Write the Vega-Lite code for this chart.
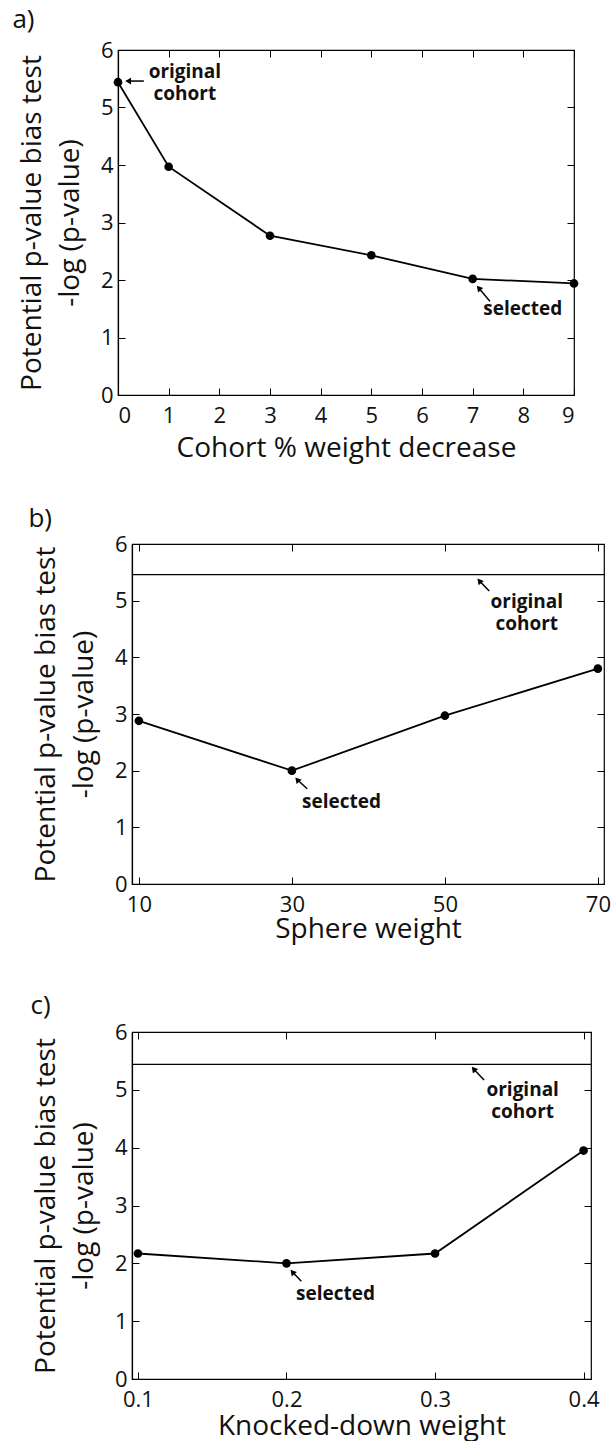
{
  "$schema": "https://vega.github.io/schema/vega-lite/v6.json",
  "padding": {"left": 4, "top": 6, "right": 0, "bottom": 0},
  "background": "white",
  "spacing": 42,
  "config": {
    "font": "Open Sans",
    "view": {"stroke": "black", "strokeWidth": 1.2},
    "axis": {"grid": false, "domainColor": "black", "domainWidth": 1.2, "tickColor": "black", "tickSize": -7, "tickWidth": 1, "labelColor": "#111", "titleColor": "#111", "labelFontSize": 22, "titleFontSize": 28, "titleFontWeight": "normal", "titleLineHeight": 38},
    "axisX": {"labelPadding": 17, "titlePadding": 8},
    "axisY": {"labelPadding": 12, "titlePadding": 16},
    "title": {"fontSize": 26, "fontWeight": "normal", "anchor": "start", "frame": "bounds", "color": "#111"}
  },
  "vconcat": [
    {
      "spacing": 0,
      "hconcat": [
        {
          "width": 1,
          "height": 10,
          "view": {"stroke": null},
          "data": {"values": [{"s": 0}]},
          "mark": {"type": "point", "opacity": 0},
          "encoding": {}
        },
        {
          "title": {"text": "a)", "dx": -6, "offset": 6},
          "width": 456,
          "height": 345,
          "data": {"values": [{"x": 0, "y": 5.44}, {"x": 1, "y": 3.97}, {"x": 3, "y": 2.77}, {"x": 5, "y": 2.43}, {"x": 7, "y": 2.02}, {"x": 9, "y": 1.94}]},
          "layer": [
            {
              "mark": {"type": "line", "color": "black", "strokeWidth": 1.8, "point": {"filled": true, "color": "black", "size": 75, "opacity": 1}},
              "encoding": {
                "x": {"field": "x", "type": "quantitative", "scale": {"domain": [0, 9], "nice": false, "zero": false}, "axis": {"values": [0, 1, 2, 3, 4, 5, 6, 7, 8, 9], "title": "Cohort % weight decrease"}},
                "y": {"field": "y", "type": "quantitative", "scale": {"domain": [0, 6], "nice": false}, "axis": {"values": [0, 1, 2, 3, 4, 5, 6], "title": ["Potential p-value bias test", "-log (p-value)"]}}
              }
            },
            {
              "mark": {"type": "point", "opacity": 0},
              "encoding": {
                "x": {"field": "x", "type": "quantitative", "axis": {"orient": "top", "values": [0, 1, 2, 3, 4, 5, 6, 7, 8, 9], "labels": false, "title": null, "domain": false}},
                "y": {"field": "y", "type": "quantitative", "axis": {"orient": "right", "values": [0, 1, 2, 3, 4, 5, 6], "labels": false, "title": null, "domain": false}}
              }
            },
            {
              "data": {"values": [{"label": "original", "x": 1.32, "y": 5.62}, {"label": "cohort", "x": 1.32, "y": 5.23}, {"label": "selected", "x": 7.99, "y": 1.5}]},
              "mark": {"type": "text", "fontWeight": "bold", "fontSize": 19, "align": "center", "baseline": "middle", "color": "#111"},
              "encoding": {
                "x": {"field": "x", "type": "quantitative", "axis": null},
                "y": {"field": "y", "type": "quantitative", "axis": null},
                "text": {"field": "label"}
              }
            },
            {
              "data": {"values": [{"target": "original", "x": 0.2, "y": 5.46, "x2": 0.51, "y2": 5.46}, {"target": "selected", "x": 7.12, "y": 1.86, "x2": 7.34, "y2": 1.63}]},
              "layer": [
                {
                  "mark": {"type": "rule", "color": "black", "strokeWidth": 1.5},
                  "encoding": {
                    "x": {"field": "x", "type": "quantitative", "axis": null},
                    "y": {"field": "y", "type": "quantitative", "axis": null},
                    "x2": {"field": "x2"},
                    "y2": {"field": "y2"}
                  }
                },
                {
                  "transform": [{"filter": "datum.target == 'original'"}],
                  "mark": {"type": "point", "shape": "triangle-left", "filled": true, "color": "black", "opacity": 1, "size": 45},
                  "encoding": {
                    "x": {"field": "x", "type": "quantitative", "axis": null},
                    "y": {"field": "y", "type": "quantitative", "axis": null}
                  }
                },
                {
                  "transform": [{"filter": "datum.target == 'selected'"}],
                  "mark": {"type": "point", "shape": "triangle-up", "angle": 320, "filled": true, "color": "black", "opacity": 1, "size": 45},
                  "encoding": {
                    "x": {"field": "x", "type": "quantitative", "axis": null},
                    "y": {"field": "y", "type": "quantitative", "axis": null}
                  }
                }
              ]
            }
          ],
          "resolve": {"axis": {"x": "independent", "y": "independent"}}
        }
      ]
    },
    {
      "spacing": 48,
      "vconcat": [
        {
          "spacing": 0,
          "hconcat": [
            {
              "width": 20,
              "height": 10,
              "view": {"stroke": null},
              "data": {"values": [{"s": 0}]},
              "mark": {"type": "point", "opacity": 0},
              "encoding": {}
            },
            {
              "title": {"text": "b)", "dx": -4, "offset": 1},
              "width": 472,
              "height": 340,
              "data": {"values": [{"x": 10, "y": 2.88}, {"x": 30, "y": 2.0}, {"x": 50, "y": 2.97}, {"x": 70, "y": 3.8}]},
              "layer": [
                {
                  "mark": {"type": "line", "color": "black", "strokeWidth": 1.8, "point": {"filled": true, "color": "black", "size": 75, "opacity": 1}},
                  "encoding": {
                    "x": {"field": "x", "type": "quantitative", "scale": {"domain": [9.1, 70.8], "nice": false, "zero": false}, "axis": {"values": [10, 30, 50, 70], "title": "Sphere weight", "titlePadding": 0}},
                    "y": {"field": "y", "type": "quantitative", "scale": {"domain": [0, 6], "nice": false}, "axis": {"values": [0, 1, 2, 3, 4, 5, 6], "title": ["Potential p-value bias test", "-log (p-value)"]}}
                  }
                },
                {
                  "mark": {"type": "point", "opacity": 0},
                  "encoding": {
                    "x": {"field": "x", "type": "quantitative", "axis": {"orient": "top", "values": [10, 30, 50, 70], "labels": false, "title": null, "domain": false}},
                    "y": {"field": "y", "type": "quantitative", "axis": {"orient": "right", "values": [0, 1, 2, 3, 4, 5, 6], "labels": false, "title": null, "domain": false}}
                  }
                },
                {
                  "data": {"values": [{"ref": 5.46}]},
                  "mark": {"type": "rule", "color": "black", "strokeWidth": 1.2},
                  "encoding": {"y": {"field": "ref", "type": "quantitative", "axis": null}}
                },
                {
                  "data": {"values": [{"label": "original", "x": 60.7, "y": 4.98}, {"label": "cohort", "x": 60.7, "y": 4.59}, {"label": "selected", "x": 36.5, "y": 1.45}]},
                  "mark": {"type": "text", "fontWeight": "bold", "fontSize": 19, "align": "center", "baseline": "middle", "color": "#111"},
                  "encoding": {
                    "x": {"field": "x", "type": "quantitative", "axis": null},
                    "y": {"field": "y", "type": "quantitative", "axis": null},
                    "text": {"field": "label"}
                  }
                },
                {
                  "data": {"values": [{"target": "original", "x": 54.5, "y": 5.35, "x2": 55.8, "y2": 5.17}, {"target": "selected", "x": 30.7, "y": 1.84, "x2": 32.0, "y2": 1.68}]},
                  "layer": [
                    {
                      "mark": {"type": "rule", "color": "black", "strokeWidth": 1.5},
                      "encoding": {
                        "x": {"field": "x", "type": "quantitative", "axis": null},
                        "y": {"field": "y", "type": "quantitative", "axis": null},
                        "x2": {"field": "x2"},
                        "y2": {"field": "y2"}
                      }
                    },
                    {
                      "mark": {"type": "point", "shape": "triangle-up", "angle": 320, "filled": true, "color": "black", "opacity": 1, "size": 45},
                      "encoding": {
                        "x": {"field": "x", "type": "quantitative", "axis": null},
                        "y": {"field": "y", "type": "quantitative", "axis": null}
                      }
                    }
                  ]
                }
              ],
              "resolve": {"axis": {"x": "independent", "y": "independent"}}
            }
          ]
        },
        {
          "spacing": 0,
          "hconcat": [
            {
              "width": 22,
              "height": 10,
              "view": {"stroke": null},
              "data": {"values": [{"s": 0}]},
              "mark": {"type": "point", "opacity": 0},
              "encoding": {}
            },
            {
              "title": {"text": "c)", "dx": -2, "offset": 2},
              "width": 459,
              "height": 347,
              "data": {"values": [{"x": 0.1, "y": 2.17}, {"x": 0.2, "y": 2.0}, {"x": 0.3, "y": 2.17}, {"x": 0.4, "y": 3.95}]},
              "layer": [
                {
                  "mark": {"type": "line", "color": "black", "strokeWidth": 1.8, "point": {"filled": true, "color": "black", "size": 75, "opacity": 1}},
                  "encoding": {
                    "x": {"field": "x", "type": "quantitative", "scale": {"domain": [0.096, 0.405], "nice": false, "zero": false}, "axis": {"values": [0.1, 0.2, 0.3, 0.4], "format": ".1f", "title": "Knocked-down weight", "titlePadding": 2}},
                    "y": {"field": "y", "type": "quantitative", "scale": {"domain": [0, 6], "nice": false}, "axis": {"values": [0, 1, 2, 3, 4, 5, 6], "title": ["Potential p-value bias test", "-log (p-value)"]}}
                  }
                },
                {
                  "mark": {"type": "point", "opacity": 0},
                  "encoding": {
                    "x": {"field": "x", "type": "quantitative", "axis": {"orient": "top", "values": [0.1, 0.2, 0.3, 0.4], "labels": false, "title": null, "domain": false}},
                    "y": {"field": "y", "type": "quantitative", "axis": {"orient": "right", "values": [0, 1, 2, 3, 4, 5, 6], "labels": false, "title": null, "domain": false}}
                  }
                },
                {
                  "data": {"values": [{"ref": 5.44}]},
                  "mark": {"type": "rule", "color": "black", "strokeWidth": 1.2},
                  "encoding": {"y": {"field": "ref", "type": "quantitative", "axis": null}}
                },
                {
                  "data": {"values": [{"label": "original", "x": 0.359, "y": 5.0}, {"label": "cohort", "x": 0.359, "y": 4.62}, {"label": "selected", "x": 0.233, "y": 1.47}]},
                  "mark": {"type": "text", "fontWeight": "bold", "fontSize": 19, "align": "center", "baseline": "middle", "color": "#111"},
                  "encoding": {
                    "x": {"field": "x", "type": "quantitative", "axis": null},
                    "y": {"field": "y", "type": "quantitative", "axis": null},
                    "text": {"field": "label"}
                  }
                },
                {
                  "data": {"values": [{"target": "original", "x": 0.326, "y": 5.36, "x2": 0.333, "y2": 5.17}, {"target": "selected", "x": 0.204, "y": 1.85, "x2": 0.21, "y2": 1.69}]},
                  "layer": [
                    {
                      "mark": {"type": "rule", "color": "black", "strokeWidth": 1.5},
                      "encoding": {
                        "x": {"field": "x", "type": "quantitative", "axis": null},
                        "y": {"field": "y", "type": "quantitative", "axis": null},
                        "x2": {"field": "x2"},
                        "y2": {"field": "y2"}
                      }
                    },
                    {
                      "mark": {"type": "point", "shape": "triangle-up", "angle": 320, "filled": true, "color": "black", "opacity": 1, "size": 45},
                      "encoding": {
                        "x": {"field": "x", "type": "quantitative", "axis": null},
                        "y": {"field": "y", "type": "quantitative", "axis": null}
                      }
                    }
                  ]
                }
              ],
              "resolve": {"axis": {"x": "independent", "y": "independent"}}
            }
          ]
        }
      ]
    }
  ]
}
